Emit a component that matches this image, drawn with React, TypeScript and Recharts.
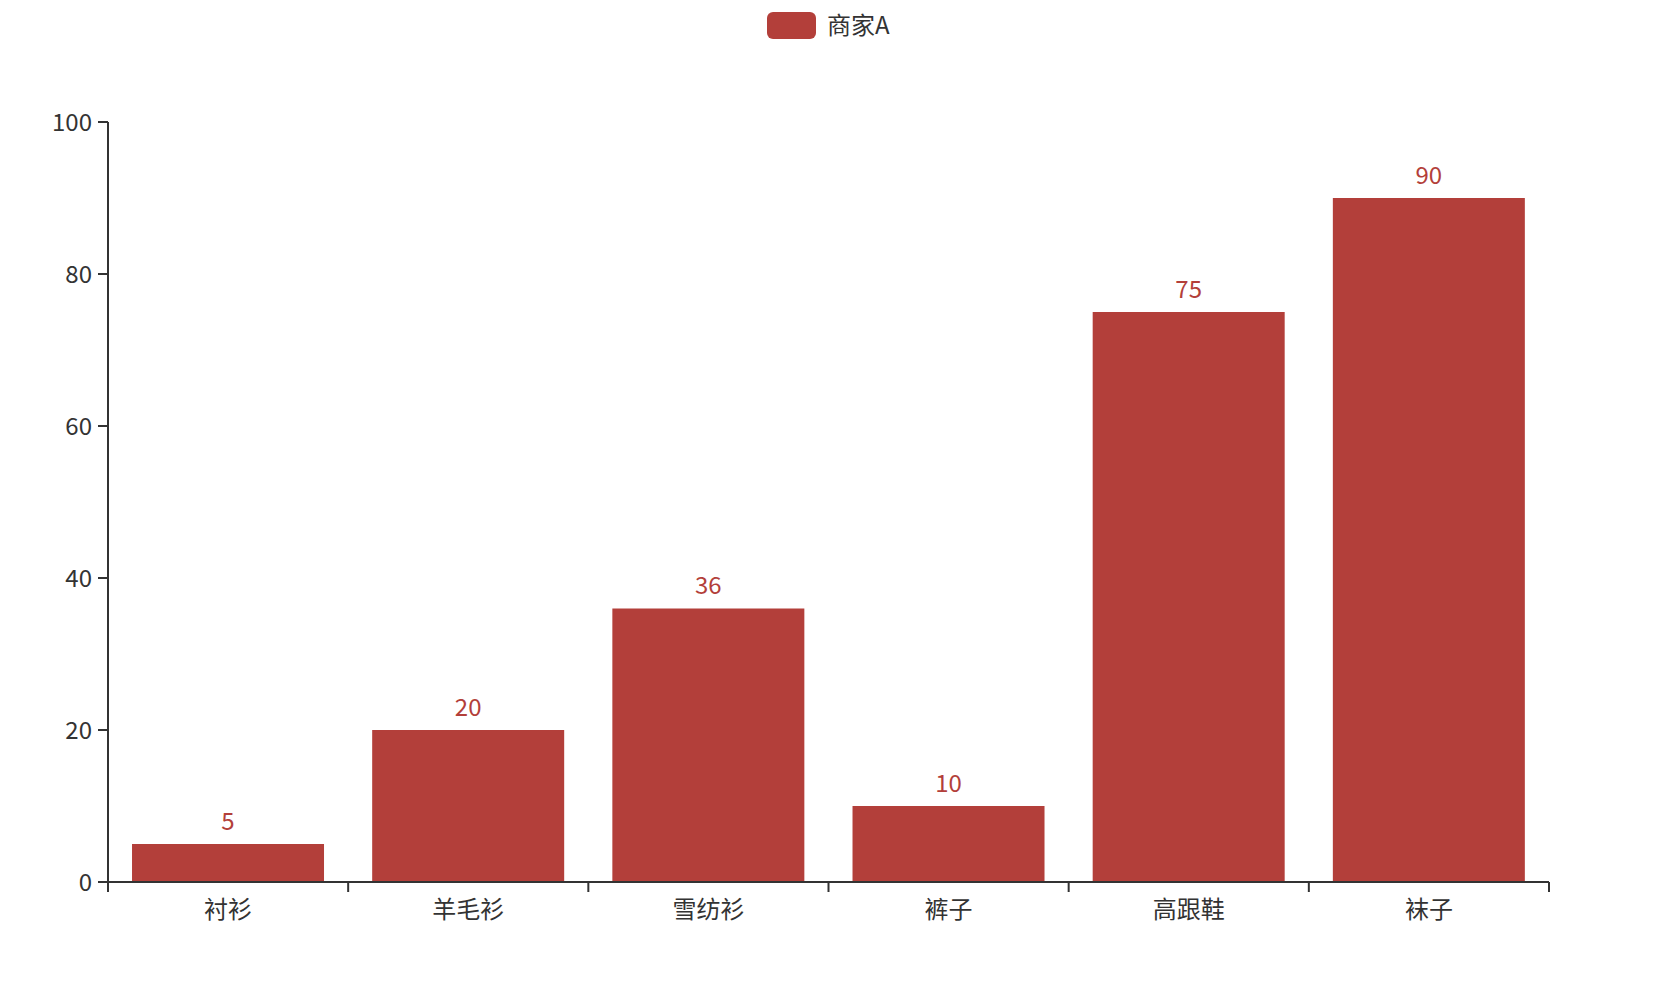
import { Bar, BarChart, LabelList, Legend, XAxis, YAxis } from "recharts"

const categories = ["衬衫", "羊毛衫", "雪纺衫", "裤子", "高跟鞋", "袜子"]
const sales = [5, 20, 36, 10, 75, 90]
const yTicks = [0, 20, 40, 60, 80, 100]
const seriesName = "商家A"

const data = categories.map((name, i) => ({ name, value: sales[i] }))

const BAR = "#b33f3a"
const INK = "#333"
const FONT = '"Noto Sans CJK SC", "Noto Sans", sans-serif'

// echarts-style category axis: ticks sit on band edges, labels in band centres
function CategoryTick(props: any) {
  const { x, y, payload, index } = props
  const half = payload?.offset ?? 0
  const top = y - 16
  return (
    <g>
      <line x1={x - half} x2={x - half} y1={top} y2={top + 10} stroke={INK} strokeWidth={2} />
      {index === categories.length - 1 && (
        <line x1={x + half} x2={x + half} y1={top} y2={top + 10} stroke={INK} strokeWidth={2} />
      )}
      <text x={x} y={y} dy="0.82em" textAnchor="middle" fill={INK} fontSize={24} fontFamily={FONT}>
        {payload.value}
      </text>
    </g>
  )
}

function LegendBox() {
  return (
    <div style={{ position: "relative", height: 28 }}>
      <div
        style={{
          position: "absolute",
          left: 767,
          top: 0,
          width: 49,
          height: 27,
          borderRadius: 6,
          background: BAR,
        }}
      />
      <span
        style={{
          position: "absolute",
          left: 827,
          top: -4,
          fontSize: 24,
          lineHeight: "31px",
          color: INK,
          fontFamily: FONT,
        }}
      >
        {seriesName}
      </span>
    </div>
  )
}

export default function App() {
  return (
    <div style={{ position: "absolute", left: 0, top: 0, fontFamily: FONT }}>
      <BarChart
        width={1674}
        height={982}
        data={data}
        barCategoryGap="10%"
        margin={{ top: 122, right: 125, bottom: 40, left: 18 }}
      >
        <XAxis
          dataKey="name"
          interval={0}
          height={60}
          tickSize={10}
          tickMargin={6}
          tickLine={false}
          axisLine={{ stroke: INK, strokeWidth: 2 }}
          tick={<CategoryTick />}
        />
        <YAxis
          width={90}
          domain={[0, 100]}
          ticks={yTicks}
          interval={0}
          tickSize={10}
          tickMargin={6}
          axisLine={{ stroke: INK, strokeWidth: 2 }}
          tickLine={{ stroke: INK, strokeWidth: 2 }}
          tick={{ fill: INK, fontSize: 24, fontFamily: FONT }}
        />
        <Legend
          layout="horizontal"
          verticalAlign="middle"
          align="center"
          wrapperStyle={{ top: 12, left: 0, width: 1674, height: 28 }}
          content={<LegendBox />}
        />
        <Bar dataKey="value" name={seriesName} fill={BAR} isAnimationActive={false}>
          <LabelList dataKey="value" position="top" offset={14} fill={BAR} fontSize={24} fontFamily={FONT} />
        </Bar>
      </BarChart>
    </div>
  )
}
